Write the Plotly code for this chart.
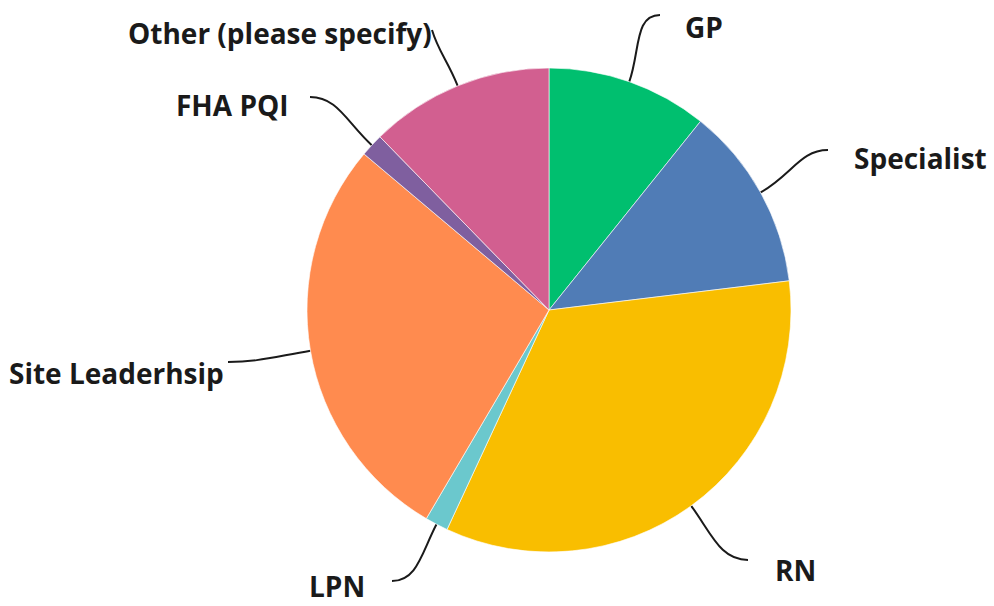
import math
import plotly.graph_objects as go

# ---- data ----
categories = ["GP", "Specialist", "RN", "LPN", "Site Leaderhsip", "FHA PQI", "Other (please specify)"]
counts = [7, 8, 22, 1, 18, 1, 8]
colors = ["#00BF6F", "#507CB6", "#F9BE00", "#6BC8CD", "#FF8B4F", "#7F5F9F", "#D25F90"]

# ---- layout (pixel geometry of figure) ----
W, H = 994, 606
CX, CY, R = 549, 310, 242
# label anchor (x, y, xanchor) and leader-line end points, per category
label_pos = [(683, 27, "left"), (852, 158, "left"), (773, 570, "left"), (367, 586, "right"),
             (226, 373, "right"), (291, 105, "right"), (434, 33, "right")]
line_end = [(660, 15), (828, 150), (748, 560), (392, 581), (228, 362), (310, 97), (432, 30)]
end_dir = [(1, 0), (1, 0), (1, 0), (-1, 0), (-1, 0), (-1, 0), (-0.3, -1)]

fig = go.Figure()
fig.add_trace(go.Pie(
    labels=categories, values=counts, sort=False, direction="clockwise", rotation=0,
    marker=dict(colors=colors, line=dict(color="rgba(255,255,255,0.6)", width=1)),
    textinfo="none", hoverinfo="label+percent", showlegend=False,
    domain=dict(x=[(CX - R) / W, (CX + R) / W], y=[(H - CY - R) / H, (H - CY + R) / H]),
))

# invisible pixel-space axes for leader lines
fig.add_trace(go.Scatter(x=[0, W], y=[0, H], mode="markers", marker=dict(opacity=0),
                         hoverinfo="skip", showlegend=False))

total = sum(counts)
cum = 0
shapes = []
annotations = []
for i, (cat, v) in enumerate(zip(categories, counts)):
    mid = (cum + v / 2) / total * 2 * math.pi
    cum += v
    dx, dy = math.sin(mid), -math.cos(mid)
    x0, y0 = CX + R * dx, CY + R * dy
    ex, ey = line_end[i]
    dist = math.hypot(ex - x0, ey - y0)
    c1x, c1y = x0 + dx * dist * 0.45, y0 + dy * dist * 0.45
    edx, edy = end_dir[i]
    c2x, c2y = ex - edx * dist * 0.35, ey - edy * dist * 0.35
    shapes.append(dict(type="path", xref="x", yref="y",
                       path=f"M {x0:.1f},{y0:.1f} C {c1x:.1f},{c1y:.1f} {c2x:.1f},{c2y:.1f} {ex:.1f},{ey:.1f}",
                       line=dict(color="#1a1a1a", width=2), layer="below"))
    lx, ly, xa = label_pos[i]
    annotations.append(dict(x=lx, y=ly, xref="x", yref="y", text=f"<b>{cat}</b>", showarrow=False,
                            xanchor=xa, yanchor="middle",
                            font=dict(family="Open Sans, Roboto, sans-serif", size=28, color="#1a1a1a")))

fig.update_layout(
    width=W, height=H, margin=dict(l=0, r=0, t=0, b=0),
    paper_bgcolor="white", plot_bgcolor="rgba(0,0,0,0)",
    xaxis=dict(range=[0, W], visible=False, fixedrange=True),
    yaxis=dict(range=[H, 0], visible=False, fixedrange=True),
    shapes=shapes, annotations=annotations,
)

fig.write_html("out.html", post_script="document.body.style.margin='0';",
               config={"displayModeBar": False})
